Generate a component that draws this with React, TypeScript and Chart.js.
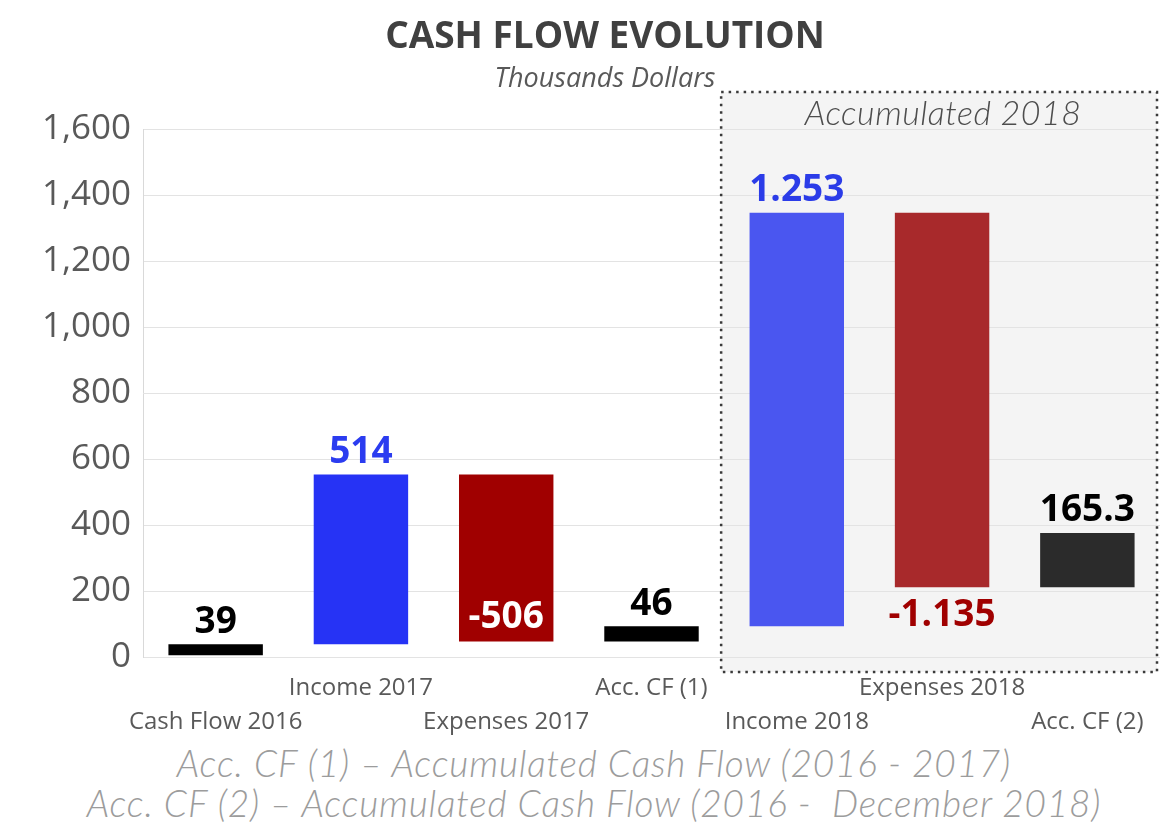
import React, { useEffect, useRef } from 'react';
import { Chart, registerables } from 'chart.js';

Chart.register(...registerables);

// ---- data ----
const categories: string[][] = [
  ['', 'Cash Flow 2016'],
  ['Income 2017', ''],
  ['', 'Expenses 2017'],
  ['Acc. CF (1)', ''],
  ['', 'Income 2018'],
  ['Expenses 2018', ''],
  ['', 'Acc. CF (2)'],
];
const barStarts = [5, 39, 47, 47, 93, 211, 211];
const barEnds = [39, 553, 553, 93, 1346, 1346, 376];
const valueLabels = ['39', '514', '-506', '46', '1.253', '-1.135', '165.3'];
const labelPlacement = ['above', 'above', 'insideBottom', 'above', 'above', 'below', 'above'];
const barColors = ['#000000', '#2633f5', '#a00000', '#000000', '#4a56f0', '#a8292b', '#2b2b2b'];
const labelColors = ['#000000', '#2b3cf0', '#ffffff', '#000000', '#2b3ce8', '#a00000', '#000000'];
const yMin = 0;
const yMax = 1600;
const yStep = 200;
const highlightFrom = 4; // first category inside "Accumulated 2018"
const highlightTitle = 'Accumulated 2018';
const chartTitle = 'CASH FLOW EVOLUTION';
const chartSubtitle = 'Thousands Dollars';
const footnotes = [
  'Acc. CF (1) – Accumulated Cash Flow (2016 - 2017)',
  'Acc. CF (2) – Accumulated Cash Flow (2016 -  December 2018)',
];

const headingPlugin = {
  id: 'heading',
  afterDraw(chart: any) {
    const { ctx } = chart;
    const cx = 597;
    ctx.save();
    ctx.textAlign = 'center';
    ctx.textBaseline = 'middle';
    ctx.fillStyle = '#404040';
    ctx.font = 'bold 37px "Open Sans", sans-serif';
    ctx.fillText(chartTitle, cx, 29);
    ctx.fillStyle = '#595959';
    ctx.font = 'italic 27px "Open Sans", sans-serif';
    ctx.fillText(chartSubtitle, cx, 71);
    ctx.restore();
  },
};

function boxRect(chart: any) {
  const { chartArea, scales } = chart;
  const x = scales.x;
  const left = (x.getPixelForValue(highlightFrom - 1) + x.getPixelForValue(highlightFrom)) / 2 - 3;
  const right = chartArea.right - 3;
  const top = chartArea.top - 37;
  const bottom = chartArea.bottom + 15;
  return { left, right, top, bottom };
}

const highlightPlugin = {
  id: 'highlightBox',
  beforeDraw(chart: any) {
    const { ctx } = chart;
    const { left, right, top, bottom } = boxRect(chart);
    ctx.save();
    ctx.fillStyle = '#f4f4f4';
    ctx.fillRect(left, top, right - left, bottom - top);
    ctx.restore();
  },
  afterDatasetsDraw(chart: any) {
    const { ctx } = chart;
    const { left, right, top, bottom } = boxRect(chart);
    ctx.save();
    ctx.strokeStyle = '#3a3a3a';
    ctx.lineWidth = 2.5;
    ctx.setLineDash([2.5, 5]);
    ctx.strokeRect(left, top, right - left, bottom - top);
    ctx.setLineDash([]);
    ctx.fillStyle = '#4d4d4d';
    ctx.font = 'italic 300 34px Lato, "Open Sans", sans-serif';
    try {
      (ctx as any).letterSpacing = '0.5px';
    } catch (e) {}
    ctx.textAlign = 'center';
    ctx.textBaseline = 'middle';
    ctx.fillText(highlightTitle, (left + right) / 2 + 4, top + 22);
    ctx.restore();
  },
};

const valueLabelPlugin = {
  id: 'valueLabels',
  afterDatasetsDraw(chart: any) {
    const { ctx } = chart;
    const meta = chart.getDatasetMeta(0);
    ctx.save();
    ctx.font = 'bold 37px "Open Sans", sans-serif';
    ctx.textAlign = 'center';
    ctx.textBaseline = 'middle';
    meta.data.forEach((bar: any, i: number) => {
      const topY = Math.min(bar.y, bar.base);
      const botY = Math.max(bar.y, bar.base);
      let y = topY - 22;
      if (labelPlacement[i] === 'below') y = botY + 28;
      if (labelPlacement[i] === 'insideBottom') y = botY - 24;
      ctx.fillStyle = labelColors[i];
      ctx.fillText(valueLabels[i], bar.x, y);
    });
    ctx.restore();
  },
};

function CashFlowChart() {
  const ref = useRef<HTMLCanvasElement | null>(null);
  useEffect(() => {
    if (!ref.current) return;
    const chart = new Chart(ref.current, {
      type: 'bar',
      data: {
        labels: categories as any,
        datasets: [
          {
            data: barStarts.map((s, i) => [s, barEnds[i]]) as any,
            backgroundColor: barColors,
            borderWidth: 0,
            barPercentage: 0.65,
            categoryPercentage: 1,
          },
        ],
      },
      options: {
        animation: false,
        responsive: true,
        maintainAspectRatio: false,
        layout: { padding: { left: 0, right: 4, top: 121, bottom: 0 } },
        plugins: {
          legend: { display: false },
          tooltip: { enabled: false },
          title: { display: false },
          subtitle: { display: false },
        },
        scales: {
          x: {
            grid: { display: false },
            border: { display: false },
            ticks: {
              color: '#595959',
              font: { family: '"Open Sans", sans-serif', size: 24, lineHeight: 34 / 24 },
              padding: 6,
              maxRotation: 0,
              autoSkip: false,
            },
            afterFit: (s: any) => {
              s.height = 81;
            },
          },
          y: {
            min: yMin,
            max: yMax,
            grid: { color: '#e3e3e3', drawTicks: false },
            border: { color: '#d9d9d9' },
            ticks: {
              stepSize: yStep,
              color: '#595959',
              font: { family: '"Open Sans", sans-serif', size: 35 },
              padding: 12,
              callback: (v: any) => Number(v).toLocaleString('en-US'),
            },
            afterFit: (s: any) => {
              s.width = 135;
            },
          },
        },
      },
      plugins: [highlightPlugin, valueLabelPlugin, headingPlugin],
    });
    return () => chart.destroy();
  }, []);
  return (
    <div style={{ position: 'relative', width: 1156, height: 730 }}>
      <canvas ref={ref} aria-label={chartTitle + ' – ' + chartSubtitle} />
    </div>
  );
}

export default function App() {
  return (
    <div style={{ width: 1156 }}>
      <CashFlowChart />
      <div
        style={{
          marginTop: 5,
          paddingLeft: 16,
          textAlign: 'center',
          fontFamily: 'Lato, "Open Sans", sans-serif',
          fontStyle: 'italic',
          fontWeight: 300,
          fontSize: 37,
          letterSpacing: '0.8px',
          lineHeight: '40px',
          color: '#9c9c9c',
          whiteSpace: 'pre',
        }}
      >
        {footnotes.map((f, i) => (
          <div key={i}>{f}</div>
        ))}
      </div>
    </div>
  );
}
